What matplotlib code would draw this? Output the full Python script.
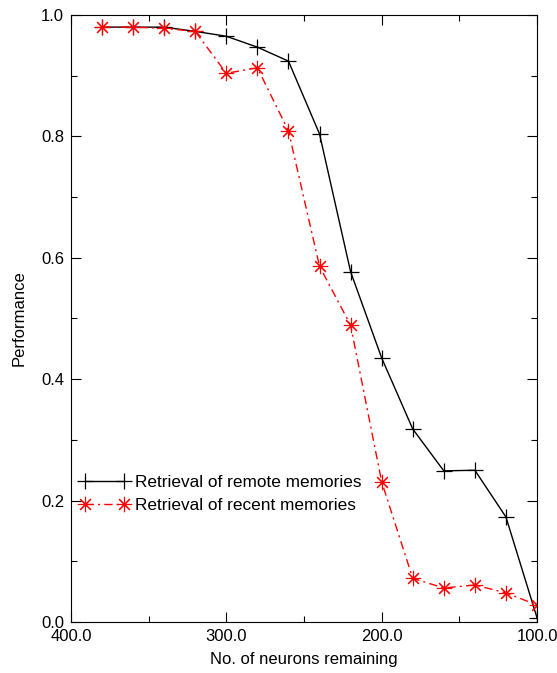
import matplotlib
matplotlib.use("Agg")
import matplotlib.pyplot as plt
from matplotlib.ticker import MultipleLocator, FixedLocator

plt.rcParams['font.family'] = ['Liberation Sans', 'DejaVu Sans']

neurons = [380, 360, 340, 320, 300, 280, 260, 240, 220, 200, 180, 160, 140, 120, 100]
remote = [0.980, 0.980, 0.980, 0.973, 0.965, 0.947, 0.924, 0.804, 0.577, 0.435, 0.318, 0.249, 0.250, 0.173, 0.007]
recent = [0.980, 0.980, 0.978, 0.973, 0.904, 0.913, 0.809, 0.586, 0.489, 0.231, 0.072, 0.056, 0.061, 0.048, 0.028]
x_ticks = [400, 300, 200, 100]
x_tick_labels = ["400.0", "300.0", "200.0", "100.0"]
y_ticks = [0.0, 0.2, 0.4, 0.6, 0.8, 1.0]
y_tick_labels = ["0.0", "0.2", "0.4", "0.6", "0.8", "1.0"]

fig = plt.figure(figsize=(5.57, 6.73), dpi=100)
ax = fig.add_axes([71/557, 1 - 622/673, (537-71)/557, (622-15)/673])

ax.plot(neurons, remote, color='black', lw=1.0, marker='+', ms=11, mew=0.9,
        label='Retrieval of remote memories')
ax.plot(neurons, recent, color='red', lw=1.0, marker=(8, 2, 0), ms=11, mew=0.8,
        dashes=(6, 3, 1.5, 3), label='Retrieval of recent memories')

ax.set_xlim(400, 100)
ax.set_ylim(0, 1)
ax.xaxis.set_major_locator(FixedLocator(x_ticks))
ax.set_xticklabels(x_tick_labels)
ax.xaxis.set_minor_locator(FixedLocator([350, 250, 150]))
ax.yaxis.set_major_locator(FixedLocator(y_ticks))
ax.set_yticklabels(y_tick_labels)
ax.yaxis.set_minor_locator(MultipleLocator(0.1))
ax.tick_params(which='both', direction='in', top=True, right=True, labelsize=12, width=0.8)
ax.tick_params(which='major', length=7, pad=5)
ax.tick_params(which='minor', length=4)
for s in ax.spines.values():
    s.set_linewidth(0.8)

ax.set_xlabel('No. of neurons remaining', fontsize=12, labelpad=6)
ax.set_ylabel('Performance', fontsize=12, labelpad=10)

leg = ax.legend(loc='upper left', bbox_to_anchor=(0.0, 0.256), frameon=False, fontsize=12.4,
                numpoints=2, handlelength=2.85, handletextpad=0.35, labelspacing=0.45,
                borderaxespad=0.3, borderpad=0.2)

fig.savefig('out.png', dpi=100)
